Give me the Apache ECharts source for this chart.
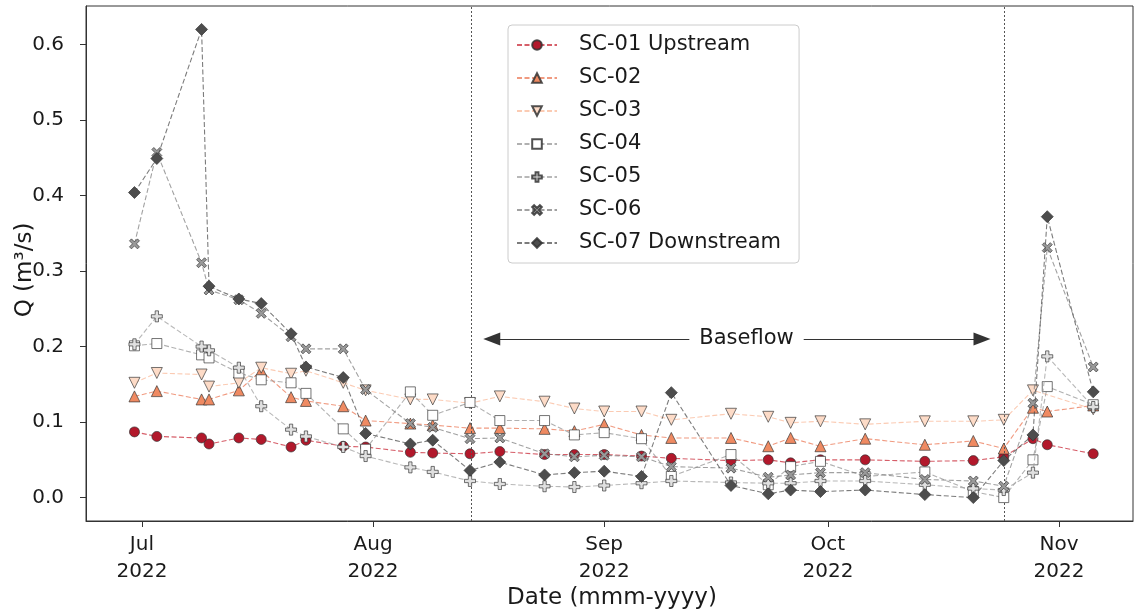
<!DOCTYPE html>
<html>
<head>
<meta charset="utf-8">
<script src="https://cdn.jsdelivr.net/npm/echarts@6/dist/echarts.min.js"></script>
<style>
  html, body { margin: 0; padding: 0; background: #ffffff; }
  #chart { width: 1135px; height: 614px; }
</style>
</head>
<body>
<div id="chart"></div>
<script>
// ---------- data ----------
const sampleDates = [
  '2022-06-30', '2022-07-03', '2022-07-09', '2022-07-10', '2022-07-14', '2022-07-17',
  '2022-07-21', '2022-07-23', '2022-07-28', '2022-07-31', '2022-08-06', '2022-08-09',
  '2022-08-14', '2022-08-18', '2022-08-24', '2022-08-28', '2022-09-01', '2022-09-06',
  '2022-09-10', '2022-09-18', '2022-09-23', '2022-09-26', '2022-09-30', '2022-10-06',
  '2022-10-14', '2022-10-20 12:00', '2022-10-24 14:00', '2022-10-28 12:00', '2022-10-30 10:00', '2022-11-05 14:00'
];
const sc01 = [0.087, 0.081, 0.079, 0.071, 0.079, 0.077, 0.067, 0.076, 0.068, 0.067, 0.060, 0.059,
              0.058, 0.061, 0.057, 0.057, 0.057, 0.055, 0.052, 0.049, 0.050, 0.046, 0.050, 0.050,
              0.048, 0.049, 0.054, 0.078, 0.070, 0.058];
const sc02 = [0.134, 0.141, 0.130, 0.130, 0.142, 0.168, 0.133, 0.128, 0.121, 0.102, 0.098, 0.096,
              0.092, 0.092, 0.091, 0.088, 0.097, 0.083, 0.079, 0.079, 0.068, 0.079, 0.068, 0.078,
              0.070, 0.075, 0.065, 0.119, 0.114, 0.122];
const sc03 = [0.152, 0.165, 0.163, 0.147, 0.152, 0.172, 0.164, 0.168, 0.152, 0.142, 0.130, 0.130,
              0.125, 0.134, 0.127, 0.118, 0.114, 0.114, 0.103, 0.111, 0.107, 0.099, 0.101, 0.097,
              0.101, 0.101, 0.103, 0.142, null, 0.117];
const sc04 = [0.201, 0.204, 0.189, 0.185, 0.165, 0.156, 0.152, 0.138, 0.091, 0.064, 0.140, 0.109,
              0.126, 0.102, 0.102, 0.083, 0.086, 0.078, 0.028, 0.057, 0.017, 0.041, 0.048, 0.028,
              0.034, 0.008, 0.000, 0.050, 0.147, 0.123];
const sc05 = [0.203, 0.240, 0.200, 0.195, 0.172, 0.121, 0.090, 0.081, 0.067, 0.055, 0.040, 0.034,
              0.022, 0.018, 0.015, 0.014, 0.016, 0.019, 0.022, 0.020, 0.019, 0.019, 0.022, 0.022,
              0.017, 0.012, 0.010, 0.033, 0.187, 0.120];
const sc06 = [0.336, 0.457, 0.311, 0.275, 0.262, 0.244, 0.213, 0.197, 0.197, 0.143, 0.098, 0.093,
              0.078, 0.079, 0.058, 0.054, 0.056, 0.054, 0.041, 0.039, 0.027, 0.030, 0.033, 0.033,
              0.024, 0.022, 0.015, 0.125, 0.331, 0.173];
const sc07 = [0.404, 0.449, 0.620, 0.280, 0.263, 0.257, 0.217, 0.173, 0.159, 0.085, 0.071, 0.076,
              0.036, 0.047, 0.030, 0.033, 0.035, 0.028, 0.139, 0.016, 0.005, 0.010, 0.008, 0.010,
              0.004, 0.000, 0.049, 0.083, 0.372, 0.140];
const seriesNames = ['SC-01 Upstream', 'SC-02', 'SC-03', 'SC-04', 'SC-05', 'SC-06', 'SC-07 Downstream'];
const seriesValues = [sc01, sc02, sc03, sc04, sc05, sc06, sc07];

const xTickDates = ['2022-07-01', '2022-08-01', '2022-09-01', '2022-10-01', '2022-11-01'];
const xTickLabels = ['Jul\n2022', 'Aug\n2022', 'Sep\n2022', 'Oct\n2022', 'Nov\n2022'];
const yTicks = [0, 0.1, 0.2, 0.3, 0.4, 0.5, 0.6];
const yTickLabels = ['0.0', '0.1', '0.2', '0.3', '0.4', '0.5', '0.6'];

const baseflowLines = ['2022-08-14 03:00', '2022-10-24 15:00'];
const baseflowArrow = ['2022-08-16 22:00', '2022-10-21 16:00'];
const baseflowLevel = 0.21;
const baseflowTextAt = '2022-09-20 02:00';
const baseflowText = 'Baseflow';

// ---------- styling ----------
const FONT = 'DejaVu Sans';
const TXT = '#1a1a1a';
const fills = ['#b2182b', '#ef8a62', '#fddbc7', '#ffffff', '#e0e0e0', '#999999', '#4d4d4d'];
const lineCols = ['rgba(200,40,55,0.75)', 'rgba(235,120,85,0.75)', 'rgba(250,190,160,0.8)',
                  'rgba(150,150,150,0.75)', 'rgba(160,160,160,0.75)', 'rgba(130,130,130,0.75)', 'rgba(80,80,80,0.75)'];
const PLUS = 'path://M3.5,0 L6.5,0 L6.5,3.5 L10,3.5 L10,6.5 L6.5,6.5 L6.5,10 L3.5,10 L3.5,6.5 L0,6.5 L0,3.5 L3.5,3.5 Z';
const XSYM = 'path://M2,0 L5,3 L8,0 L10,2 L7,5 L10,8 L8,10 L5,7 L2,10 L0,8 L3,5 L0,2 Z';
const INVTRI = 'path://M0,0 L10,0 L5,9 Z';
const symbols = ['circle', 'triangle', INVTRI, 'rect', PLUS, XSYM, 'diamond'];
const sizes = [10, 11, 11, 10, 11, 10, 12];

const ts = d => echarts.time.parse(d).getTime();
const tickTs = xTickDates.map(ts);

const series = seriesNames.map((name, i) => {
  const data = [];
  sampleDates.forEach((d, j) => {
    const v = seriesValues[i][j];
    if (v !== null && v !== undefined) data.push([ts(d), v]);
  });
  return {
    name: name,
    type: 'line',
    data: data,
    symbol: symbols[i],
    symbolSize: sizes[i],
    showAllSymbol: true,
    lineStyle: { color: lineCols[i], width: 1.1, type: [5, 2.5] },
    itemStyle: { color: fills[i], borderColor: 'rgba(50,50,50,0.85)', borderWidth: 0.8 },
    emphasis: { disabled: true },
    z: 2 + i,
    animation: false
  };
});

series.push({
  name: '__annot',
  type: 'line',
  data: [],
  silent: true,
  animation: false,
  markLine: {
    silent: true,
    animation: false,
    symbol: 'none',
    lineStyle: { color: '#555555', width: 1, type: [2, 2] },
    label: { show: false },
    data: baseflowLines.map(d => ({ xAxis: ts(d) }))
  }
});
series.push({
  name: '__arrow',
  type: 'line',
  data: [],
  silent: true,
  animation: false,
  z: 20,
  markLine: {
    silent: true,
    animation: false,
    symbol: ['triangle', 'triangle'],
    symbolSize: [13, 17],
    lineStyle: { color: '#333333', width: 1, type: 'solid' },
    label: { show: false },
    data: [[{ coord: [ts(baseflowArrow[0]), baseflowLevel] }, { coord: [ts(baseflowArrow[1]), baseflowLevel] }]]
  },
  markPoint: {
    silent: true,
    animation: false,
    symbol: 'rect',
    symbolSize: 1,
    itemStyle: { color: 'rgba(255,255,255,0)' },
    label: {
      show: true,
      position: 'inside',
      formatter: baseflowText,
      fontFamily: FONT,
      fontSize: 21,
      color: TXT,
      backgroundColor: '#ffffff',
      padding: [3, 10, 3, 10]
    },
    data: [{ coord: [ts(baseflowTextAt), baseflowLevel] }]
  }
});

const option = {
  backgroundColor: '#ffffff',
  animation: false,
  grid: {
    left: 86, right: 2, top: 6, bottom: 93,
    show: true, borderColor: '#333333', borderWidth: 1, backgroundColor: 'transparent'
  },
  xAxis: {
    type: 'value',
    min: ts('2022-06-23 12:00'),
    max: ts('2022-11-10 22:00'),
    splitLine: { show: false },
    axisLine: { show: true, onZero: false, lineStyle: { color: '#333333' } },
    axisTick: { show: true, inside: false, length: 6, lineStyle: { color: '#333333' }, customValues: tickTs },
    axisLabel: {
      customValues: tickTs,
      margin: 10,
      fontFamily: FONT, fontSize: 20, color: TXT, lineHeight: 27,
      formatter: function (v) {
        const idx = tickTs.indexOf(v);
        return idx >= 0 ? xTickLabels[idx] : '';
      }
    }
  },
  yAxis: {
    type: 'value',
    min: -0.031,
    max: 0.651,
    splitLine: { show: false },
    axisLine: { show: true, onZero: false, lineStyle: { color: '#333333' } },
    axisTick: { show: true, inside: false, length: 6, lineStyle: { color: '#333333' }, customValues: yTicks },
    axisLabel: {
      customValues: yTicks,
      margin: 22,
      fontFamily: FONT, fontSize: 20, color: TXT,
      formatter: function (v) {
        let idx = -1;
        yTicks.forEach((t, k) => { if (Math.abs(t - v) < 1e-9) idx = k; });
        return idx >= 0 ? yTickLabels[idx] : '';
      }
    }
  },
  legend: {
    data: seriesNames,
    orient: 'vertical',
    left: 508,
    top: 25,
    padding: [9, 18, 9, 8],
    itemWidth: 40,
    itemHeight: 12,
    itemGap: 11,
    backgroundColor: 'rgba(255,255,255,0.85)',
    borderColor: '#cccccc',
    borderWidth: 1,
    borderRadius: 4,
    textStyle: { fontFamily: FONT, fontSize: 21, color: TXT, lineHeight: 22, padding: [0, 0, 0, 17] },
    selectedMode: false
  },
  graphic: [
    {
      type: 'text', x: 25, y: 270, rotation: Math.PI / 2,
      style: { text: 'Q (m³/s)', font: '23px "DejaVu Sans"', fill: TXT, align: 'center', verticalAlign: 'middle' }
    },
    {
      type: 'text', x: 612, y: 598,
      style: { text: 'Date (mmm-yyyy)', font: '23px "DejaVu Sans"', fill: TXT, align: 'center', verticalAlign: 'middle' }
    }
  ],
  series: series
};

const chart = echarts.init(document.getElementById('chart'), null, { renderer: 'canvas' });
chart.setOption(option);
</script>
</body>
</html>
